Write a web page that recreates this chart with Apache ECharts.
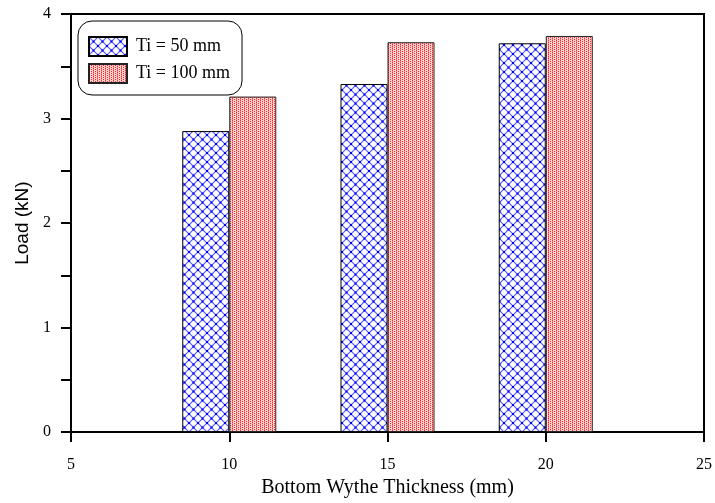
<!DOCTYPE html>
<html>
<head>
<meta charset="utf-8">
<script src="https://cdn.jsdelivr.net/npm/echarts@6/dist/echarts.min.js"></script>
<style>
  html, body { margin: 0; padding: 0; background: #fff; overflow: hidden; }
  #chart { width: 715px; height: 503px; }
</style>
</head>
<body>
<div id="chart"></div>
<script>
// 底层厚度 (mm)
var thickness = [10, 15, 20];
// 荷载 (kN)
var load50 = [2.88, 3.33, 3.72];
var load100 = [3.21, 3.73, 3.79];
var seriesNames = ['Ti = 50 mm', 'Ti = 100 mm'];

// 网格填充图案
function crossTile() {
    var c = document.createElement('canvas');
    c.width = 9;
    c.height = 9;
    var ctx = c.getContext('2d');
    ctx.fillStyle = '#ffffff';
    ctx.fillRect(0, 0, 9, 9);
    ctx.strokeStyle = '#5a5aff';
    ctx.lineWidth = 1.2;
    ctx.beginPath();
    ctx.moveTo(0, 0); ctx.lineTo(9, 9);
    ctx.moveTo(9, 0); ctx.lineTo(0, 9);
    ctx.stroke();
    ctx.fillStyle = '#0000ff';
    ctx.fillRect(3.5, 3.5, 2, 2);
    ctx.fillRect(-1, -1, 2, 2);
    ctx.fillRect(8, -1, 2, 2);
    ctx.fillRect(-1, 8, 2, 2);
    ctx.fillRect(8, 8, 2, 2);
    return c;
}
// 点状填充图案
function dotTile() {
    var c = document.createElement('canvas');
    c.width = 4;
    c.height = 4;
    var ctx = c.getContext('2d');
    ctx.fillStyle = '#ffd6d6';
    ctx.fillRect(0, 0, 4, 4);
    ctx.fillStyle = '#ff2020';
    ctx.fillRect(0, 0, 1, 1);
    ctx.fillRect(0, 2, 1, 1);
    ctx.fillRect(2, 1, 1, 1);
    ctx.fillRect(2, 3, 1, 1);
    ctx.fillStyle = '#ff8080';
    ctx.fillRect(0, 1, 1, 1);
    ctx.fillRect(0, 3, 1, 1);
    return c;
}

var serif = 'Liberation Serif';
var chart = echarts.init(document.getElementById('chart'));
var option = {
    backgroundColor: '#fff',
    animation: false,
    grid: {
        left: 71, right: 6, top: 14, bottom: 65,
        show: true, borderColor: '#000', borderWidth: 2
    },
    legend: {
        orient: 'vertical',
        left: 78, top: 21,
        icon: 'rect',
        itemWidth: 38, itemHeight: 19, itemGap: 6,
        padding: [15, 12, 11, 10],
        borderColor: '#000', borderWidth: 1, borderRadius: 14,
        textStyle: { fontFamily: serif, fontSize: 18, color: '#000', padding: [0, 0, 0, 4] },
        data: seriesNames
    },
    xAxis: {
        type: 'value',
        min: 5, max: 25, interval: 5,
        name: 'Bottom Wythe Thickness (mm)',
        nameLocation: 'middle',
        nameGap: 45,
        nameTextStyle: { fontFamily: serif, fontSize: 20, color: '#000' },
        axisLine: { lineStyle: { color: '#000', width: 2 } },
        axisTick: { inside: false, length: 10, lineStyle: { width: 2, color: '#000' } },
        axisLabel: { fontFamily: serif, fontSize: 16, color: '#000', margin: 25 },
        splitLine: { show: false }
    },
    yAxis: {
        type: 'value',
        min: 0, max: 4, interval: 1,
        name: 'Load (kN)',
        nameLocation: 'middle',
        nameGap: 33,
        nameTextStyle: { fontFamily: 'Liberation Sans', fontSize: 19, color: '#000' },
        axisLine: { lineStyle: { color: '#000', width: 2 } },
        axisTick: { inside: false, length: 10, lineStyle: { width: 2, color: '#000' } },
        minorTick: { show: true, splitNumber: 2, length: 10, lineStyle: { width: 2, color: '#000' } },
        axisLabel: { fontFamily: serif, fontSize: 16, color: '#000', margin: 20 },
        splitLine: { show: false }
    },
    series: [{
        name: seriesNames[0],
        type: 'bar',
        barWidth: 47,
        barGap: '0%',
        itemStyle: {
            color: { image: crossTile(), repeat: 'repeat' },
            borderColor: '#000', borderWidth: 1
        },
        data: thickness.map(function(t, k) { return [t, load50[k]]; })
    }, {
        name: seriesNames[1],
        type: 'bar',
        barWidth: 47,
        barGap: '0%',
        itemStyle: {
            color: { image: dotTile(), repeat: 'repeat' },
            borderColor: '#222', borderWidth: 1
        },
        data: thickness.map(function(t, k) { return [t, load100[k]]; })
    }]
};
chart.setOption(option);
</script>
</body>
</html>
